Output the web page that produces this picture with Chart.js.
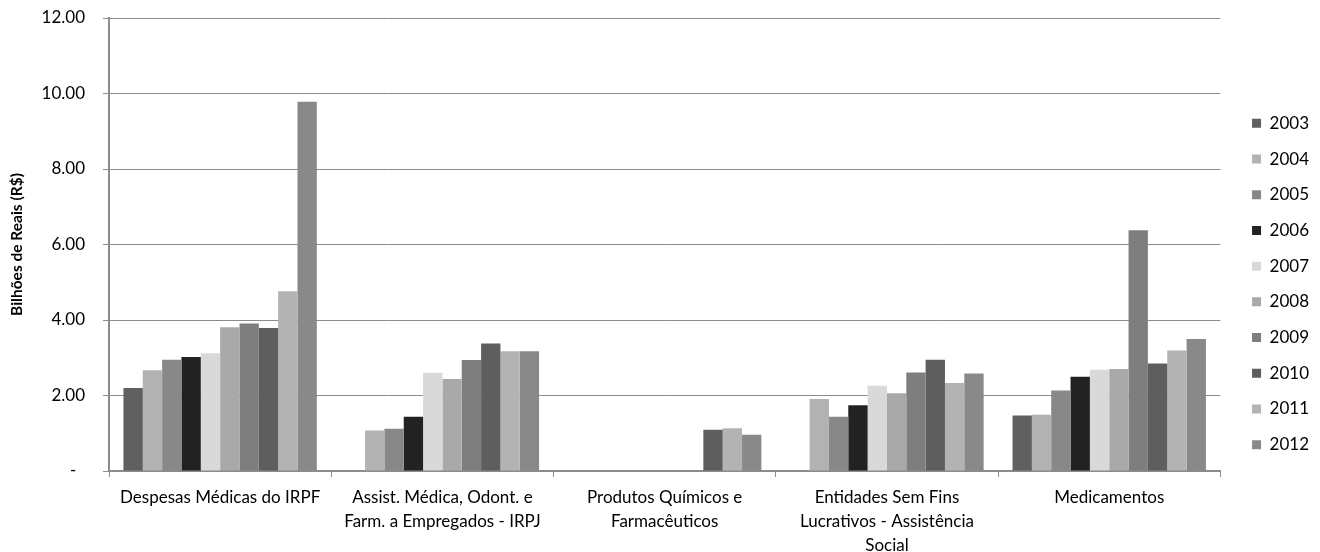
<!DOCTYPE html>
<html>
<head>
<meta charset="utf-8">
<script src="https://cdn.jsdelivr.net/npm/chart.js@4"></script>
<style>
  html, body { margin: 0; padding: 0; background: #ffffff; }
  #wrap { width: 1320px; height: 552px; position: relative; }
</style>
</head>
<body>
<div id="wrap"><canvas id="c" width="1320" height="552"></canvas></div>
<script>
// ---- data ----
const categories = [
  'Despesas Médicas do IRPF',
  ['Assist. Médica, Odont. e', 'Farm. a Empregados - IRPJ'],
  ['Produtos Químicos e', 'Farmacêuticos'],
  ['Entidades Sem Fins', 'Lucrativos - Assistência', 'Social'],
  'Medicamentos'
];
const years = ['2003','2004','2005','2006','2007','2008','2009','2010','2011','2012'];
// values per category, one per year (billions R$)
const despesasIRPF   = [2.20, 2.67, 2.95, 3.02, 3.12, 3.81, 3.91, 3.79, 4.76, 9.78];
const assistIRPJ     = [null, 1.07, 1.12, 1.44, 2.60, 2.44, 2.94, 3.38, 3.17, 3.17];
const produtosQuim   = [null, null, null, null, null, null, null, 1.09, 1.13, 0.96];
const entidades      = [null, 1.91, 1.44, 1.74, 2.26, 2.06, 2.61, 2.95, 2.33, 2.58];
const medicamentos   = [1.47, 1.49, 2.13, 2.50, 2.68, 2.70, 6.38, 2.85, 3.19, 3.50];
const yTickValues    = [0, 2, 4, 6, 8, 10, 12];
const yearColors = ['#606060','#b2b2b2','#888888','#222222','#d9d9d9','#a9a9a9','#7e7e7e','#5e5e5e','#b3b3b3','#898989'];

const byCategory = [despesasIRPF, assistIRPJ, produtosQuim, entidades, medicamentos];
const datasets = years.map((y, i) => ({
  label: y,
  data: byCategory.map(arr => arr[i]),
  backgroundColor: yearColors[i],
  borderWidth: 0,
  barPercentage: 1.0,
  categoryPercentage: 0.87
}));

const FONT = 'Lato, "Noto Sans", sans-serif';
Chart.defaults.font.family = FONT;
Chart.defaults.font.size = 17;
Chart.defaults.color = '#000000';

const legendShift = {
  id: 'legendShift',
  afterLayout(chart) {
    const lg = chart.legend;
    if (!lg) return;
    const dx = 13, dy = -1;
    lg.left += dx; lg.right += dx;
    lg.top += dy; lg.bottom += dy;
  }
};

new Chart(document.getElementById('c'), {
  type: 'bar',
  data: { labels: categories, datasets },
  plugins: [legendShift],
  options: {
    responsive: false,
    animation: false,
    devicePixelRatio: 1,
    layout: { padding: { top: 18, right: 14, bottom: 0, left: 0 } },
    plugins: {
      tooltip: { enabled: false },
      legend: {
        position: 'right',
        align: 'center',
        labels: {
          boxWidth: 9,
          boxHeight: 9,
          padding: 18.7,
          font: { size: 17, family: FONT },
          color: '#000000'
        }
      }
    },
    scales: {
      x: {
        offset: true,
        grid: {
          offset: true,
          drawOnChartArea: false,
          drawTicks: true,
          tickLength: 6,
          color: '#8c8c8c',
          lineWidth: 1
        },
        border: { color: '#8c8c8c', width: 2 },
        ticks: {
          maxRotation: 0,
          autoSkip: false,
          padding: 9,
          font: { size: 17, family: FONT, lineHeight: 1.4 },
          color: '#000000'
        },
        afterFit(scale) { scale.height = 81; }
      },
      y: {
        min: 0,
        max: 12,
        afterBuildTicks(scale) { scale.ticks = yTickValues.map(v => ({ value: v })); },
        grid: {
          color: '#8c8c8c',
          lineWidth: 1,
          tickLength: 6
        },
        border: { color: '#8c8c8c', width: 2 },
        ticks: {
          padding: 18,
          font: { size: 17, family: FONT },
          color: '#000000',
          callback: (v) => v === 0 ? '-  ' : v.toFixed(2)
        },
        title: {
          display: true,
          text: 'Bilhões de Reais (R$)',
          font: { size: 15.5, weight: 'bold', family: FONT },
          color: '#000000',
          padding: { top: 8, bottom: 0 }
        },
        afterFit(scale) {
          scale.width = 109;
          scale.paddingTop = 0;
          scale.paddingBottom = 0;
        }
      }
    }
  }
});
</script>
</body>
</html>
